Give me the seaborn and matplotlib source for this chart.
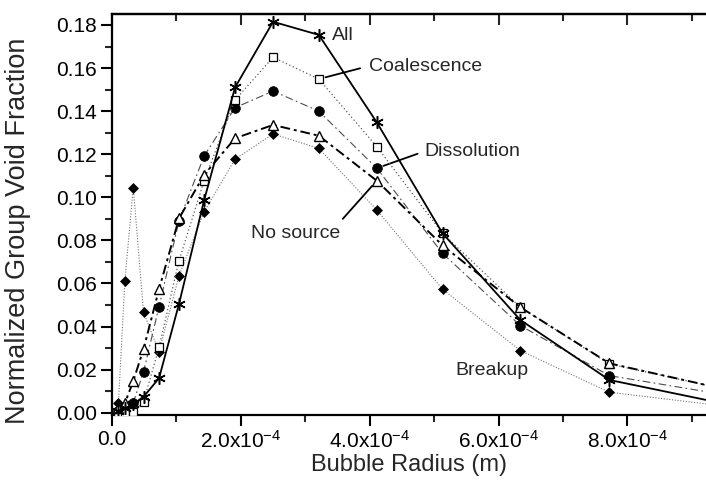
import numpy as np
import pandas as pd
import matplotlib
matplotlib.use("Agg")
import matplotlib.pyplot as plt
import seaborn as sns
from matplotlib.ticker import MultipleLocator, FuncFormatter

# Bubble radius groups (m)
radius = [0.10e-4, 0.20e-4, 0.33e-4, 0.49e-4, 0.73e-4, 1.04e-4, 1.43e-4,
          1.91e-4, 2.50e-4, 3.21e-4, 4.11e-4, 5.13e-4, 6.34e-4, 7.72e-4, 9.50e-4]

# Normalized group void fraction for each source-term case
all_src   = [0.001, 0.002, 0.004, 0.0074, 0.016, 0.0505, 0.0987, 0.151, 0.1815,
             0.1754, 0.1348, 0.0833, 0.043, 0.0152, 0.0042]
coalesc   = [0.000, 0.000, 0.0005, 0.0051, 0.0304, 0.0706, 0.1077, 0.1452, 0.165,
             0.1549, 0.1235, 0.0833, 0.0489, 0.0226, 0.011]
dissol    = [0.001, 0.002, 0.0046, 0.019, 0.0492, 0.089, 0.1192, 0.1416, 0.1493,
             0.140, 0.1135, 0.074, 0.0404, 0.0172, 0.0084]
no_source = [0.002, 0.0044, 0.0147, 0.0296, 0.0573, 0.0902, 0.1104, 0.1274, 0.1336,
             0.1286, 0.1077, 0.0777, 0.0489, 0.0229, 0.011]
breakup   = [0.0045, 0.0613, 0.1045, 0.0466, 0.0283, 0.0636, 0.0933, 0.1177, 0.1294,
             0.1227, 0.0941, 0.0573, 0.0288, 0.0095, 0.0031]

series_names = ["All", "Coalescence", "Dissolution", "No source", "Breakup"]
series_vals = [all_src, coalesc, dissol, no_source, breakup]

df = pd.concat(
    [pd.DataFrame({"radius": radius, "fraction": v, "case": n})
     for n, v in zip(series_names, series_vals)],
    ignore_index=True,
)

sns.set_style("ticks")
plt.rcParams["font.family"] = ["Liberation Sans", "DejaVu Sans"]
plt.rcParams["mathtext.fontset"] = "custom"
plt.rcParams["mathtext.rm"] = "Liberation Sans"
plt.rcParams["mathtext.it"] = "Liberation Sans:italic"
plt.rcParams["mathtext.bf"] = "Liberation Sans:bold"

fig = plt.figure(figsize=(7.06, 4.90), dpi=100)
ax = fig.add_axes([112 / 706, 75 / 490, 594 / 706, 401 / 490])

styles = {
    "All": dict(color="black", linestyle="-", lw=1.3, marker=(6, 2, 0), ms=9,
                mfc="black", mec="black", mew=1.1, zorder=6),
    "Coalescence": dict(color="0.35", linestyle=(0, (1, 2)), lw=0.9, marker="s",
                        ms=5.5, mfc="white", mec="black", mew=0.9, zorder=5),
    "Dissolution": dict(color="0.3", linestyle=(0, (7, 3, 1.5, 3)), lw=0.8,
                        marker="o", ms=7, mfc="black", mec="black", mew=0.5, zorder=4),
    "No source": dict(color="black", linestyle=(0, (5, 2, 1.5, 2)), lw=1.4,
                      marker="^", ms=7.5, mfc="white", mec="black", mew=1.0, zorder=5),
    "Breakup": dict(color="0.45", linestyle=(0, (1, 1.5)), lw=0.8, marker="D",
                    ms=5.5, mfc="black", mec="black", mew=0.5, zorder=3),
}

for name in series_names:
    st = styles[name]
    sub = df[df["case"] == name]
    sns.lineplot(data=sub, x="radius", y="fraction", ax=ax, sort=False,
                 errorbar=None, estimator=None,
                 color=st["color"], linestyle=st["linestyle"], linewidth=st["lw"],
                 marker=st["marker"], markersize=st["ms"],
                 markerfacecolor=st["mfc"], markeredgecolor=st["mec"],
                 markeredgewidth=st["mew"], zorder=st["zorder"])

ax.set_xlim(0, 9.22e-4)
ax.set_ylim(-0.00107, 0.1851)

ax.xaxis.set_major_locator(MultipleLocator(2e-4))
ax.xaxis.set_minor_locator(MultipleLocator(1e-4))
ax.yaxis.set_major_locator(MultipleLocator(0.02))
ax.yaxis.set_minor_locator(MultipleLocator(0.01))


def xfmt(v, pos):
    if abs(v) < 1e-12:
        return "0.0"
    return "%.1fx10$^{-4}$" % (v / 1e-4)


ax.xaxis.set_major_formatter(FuncFormatter(xfmt))
ax.yaxis.set_major_formatter(FuncFormatter(lambda v, p: "%.2f" % v))

ax.tick_params(which="major", direction="out", length=8, width=1.5,
               labelsize=15, pad=3, colors="black")
ax.tick_params(which="minor", direction="out", length=5, width=1.5)

for side in ["left", "bottom", "top"]:
    ax.spines[side].set_linewidth(1.6)
    ax.spines[side].set_color("black")
ax.spines["right"].set_visible(False)

top = ax.secondary_xaxis("top")
top.xaxis.set_major_locator(MultipleLocator(2e-4))
top.xaxis.set_minor_locator(MultipleLocator(1e-4))
top.tick_params(which="both", direction="in", labeltop=False, width=1.5)
top.tick_params(which="major", length=8)
top.tick_params(which="minor", length=5)
top.spines["top"].set_linewidth(1.6)

ax.set_xlabel("Bubble Radius (m)", fontsize=17, labelpad=1)
ax.set_ylabel("Normalized Group Void Fraction", fontsize=19.5)
ax.yaxis.set_label_coords(-0.137, 0.459)

# Case labels with leader lines
tfs = 14
i_pk = radius.index(3.21e-4)
i_41 = radius.index(4.11e-4)
i_63 = radius.index(6.34e-4)

ax.annotate("All", xy=(radius[i_pk], all_src[i_pk]), xytext=(13, -1),
            textcoords="offset pixels", ha="left", va="center", fontsize=tfs)
ax.annotate("Coalescence", xy=(radius[i_pk], coalesc[i_pk]), xytext=(50, 13),
            textcoords="offset pixels", ha="left", va="center", fontsize=tfs,
            arrowprops=dict(arrowstyle="-", color="black", lw=1.3,
                            relpos=(0, 0.5), shrinkA=4, shrinkB=5))
ax.annotate("Dissolution", xy=(radius[i_41], dissol[i_41]), xytext=(48, 17),
            textcoords="offset pixels", ha="left", va="center", fontsize=tfs,
            arrowprops=dict(arrowstyle="-", color="black", lw=1.3,
                            relpos=(0, 0.5), shrinkA=3, shrinkB=5))
ax.annotate("No source", xy=(radius[i_41], no_source[i_41]), xytext=(-37, -53),
            textcoords="offset pixels", ha="right", va="center", fontsize=tfs,
            arrowprops=dict(arrowstyle="-", color="black", lw=1.3,
                            relpos=(0.97, 1.0), shrinkA=3, shrinkB=5))
ax.annotate("Breakup", xy=(radius[i_63], breakup[i_63]), xytext=(-65, -20),
            textcoords="offset pixels", ha="left", va="center", fontsize=tfs)

fig.savefig("out.png", dpi=100)
